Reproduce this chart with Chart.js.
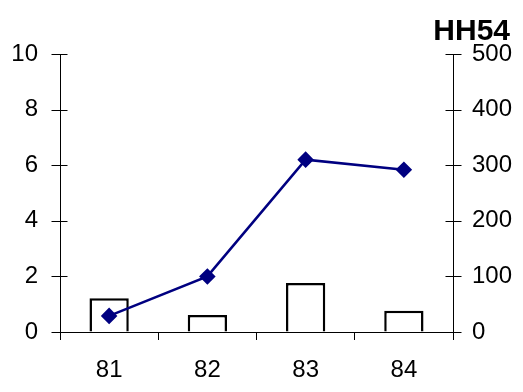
<!DOCTYPE html>
<html>
<head>
<meta charset="utf-8">
<script src="https://cdn.jsdelivr.net/npm/chart.js@4"></script>
<style>
  html, body { margin: 0; padding: 0; background: #fff; }
  #wrap { width: 523px; height: 392px; }
</style>
</head>
<body>
<div id="wrap"><canvas id="chart"></canvas></div>
<script>
const years = ["81", "82", "83", "84"];
const barValues = [1.21, 0.61, 1.76, 0.76];     // left axis
const lineValues = [29, 100, 310, 292];         // right axis
const leftTicks = [0, 2, 4, 6, 8, 10];
const rightTicks = [0, 100, 200, 300, 400, 500];
const chartTitle = "HH54";

const FONT = "'Liberation Sans', Arial, sans-serif";
const NAVY = "#000080";

// ticks that cross the vertical axes, plus the title
const axisMarks = {
  id: "axisMarks",
  afterDraw(chart) {
    const ctx = chart.ctx;
    const area = chart.chartArea;
    ctx.save();
    ctx.strokeStyle = "#000";
    ctx.lineWidth = 1;
    const cross = (scale, x) => {
      scale.ticks.forEach(t => {
        const y = Math.round(scale.getPixelForValue(t.value)) + 0.5;
        ctx.beginPath();
        ctx.moveTo(x - 8, y);
        ctx.lineTo(x + 8, y);
        ctx.stroke();
      });
    };
    cross(chart.scales.y, Math.round(area.left) - 0.5);
    cross(chart.scales.y1, Math.round(area.right) + 0.5);

    ctx.fillStyle = "#000";
    ctx.font = "bold 30px " + FONT;
    ctx.textAlign = "right";
    ctx.textBaseline = "alphabetic";
    ctx.fillText(chartTitle, 510, 40);
    ctx.restore();
  }
};

new Chart(document.getElementById("chart"), {
  data: {
    labels: years,
    datasets: [
      {
        type: "line",
        data: lineValues,
        yAxisID: "y1",
        borderColor: NAVY,
        backgroundColor: NAVY,
        borderWidth: 2.5,
        pointStyle: "rectRot",
        pointRadius: 6.5,
        pointBackgroundColor: NAVY,
        pointBorderColor: NAVY,
        tension: 0,
        order: 0
      },
      {
        type: "bar",
        data: barValues,
        yAxisID: "y",
        backgroundColor: "#fff",
        borderColor: "#000",
        borderWidth: 2.5,
        barPercentage: 0.4,
        categoryPercentage: 1,
        order: 1
      }
    ]
  },
  options: {
    responsive: true,
    maintainAspectRatio: false,
    animation: false,
    devicePixelRatio: 1,
    layout: { padding: { top: 54, left: 0, right: 0, bottom: 0 } },
    plugins: { legend: { display: false }, tooltip: { enabled: false }, title: { display: false } },
    scales: {
      x: {
        offset: true,
        grid: { offset: true, drawOnChartArea: false, drawTicks: true, tickLength: 8, color: "#000" },
        border: { display: true, color: "#000", width: 1 },
        ticks: { color: "#000", font: { family: FONT, size: 24 }, padding: 16, maxRotation: 0 },
        afterFit: s => { s.height = 60; }
      },
      y: {
        position: "left",
        min: 0,
        max: 10,
        afterBuildTicks: s => { s.ticks = leftTicks.map(v => ({ value: v })); },
        grid: { drawOnChartArea: false, drawTicks: false },
        border: { display: true, color: "#000", width: 1 },
        ticks: { color: "#000", font: { family: FONT, size: 24 }, padding: 22 },
        afterFit: s => { s.width = 60; }
      },
      y1: {
        position: "right",
        min: 0,
        max: 500,
        afterBuildTicks: s => { s.ticks = rightTicks.map(v => ({ value: v })); },
        grid: { drawOnChartArea: false, drawTicks: false },
        border: { display: true, color: "#000", width: 1 },
        ticks: { color: "#000", font: { family: FONT, size: 24 }, padding: 19 },
        afterFit: s => { s.width = 70; }
      }
    }
  },
  plugins: [axisMarks]
});
</script>
</body>
</html>
